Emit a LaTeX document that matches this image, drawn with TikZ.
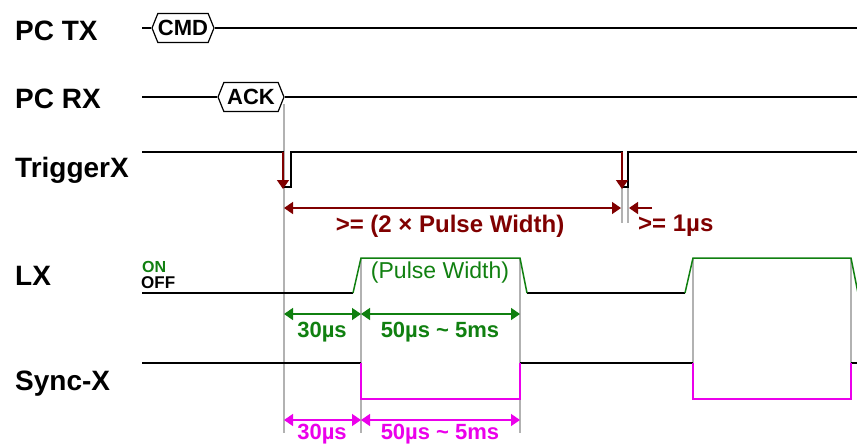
\documentclass[tikz,border=0pt]{standalone}
\usepackage{fontspec}
\setmainfont{Liberation Sans}
\usetikzlibrary{shapes.symbols, arrows.meta, positioning, calc}
\definecolor{trigred}{RGB}{128,0,0}
\definecolor{lxgreen}{RGB}{16,128,16}
\definecolor{syncmag}{RGB}{235,0,235}
\definecolor{guide}{RGB}{178,178,178}

\begin{document}
\begin{tikzpicture}[
    x=1pt, y=-1pt,
    lbl/.style={anchor=base west, inner sep=0pt, font=\fontsize{28}{28}\selectfont\bfseries},
    pkt/.style={signal, signal to=east and west, signal pointer angle=136, draw, line width=1.2pt,
        inner sep=0pt, minimum height=29pt, font=\fontsize{22}{22}\selectfont\bfseries},
    sig/.style={line width=2pt, black},
    guideline/.style={guide, line width=1.5pt},
    dim/.style={{Triangle[width=12pt,length=9pt]}-{Triangle[width=12pt,length=9pt]}, line width=1.5pt},
    edgemark/.style={-{Triangle[width=12pt,length=9pt]}, line width=1.5pt, trigred},
    dimtxt/.style={inner sep=0pt, font=\fontsize{22}{22}\selectfont\bfseries}
]
\useasboundingbox (0,0) rectangle (857,445);

% Signal names
\node[lbl] (pctx) at (15,40) {PC TX};
\node[lbl] (pcrx) at (15,108) {PC RX};
\node[lbl] (trig) at (15,177) {TriggerX};
\node[lbl] (lx) at (15,285) {LX};
\node[lbl] (sync) at (15,390) {Sync-X};
\node[anchor=west, inner sep=0pt, text=lxgreen, font=\fontsize{16}{16}\selectfont\bfseries] (on) at (142,267) {ON};
\node[anchor=west, inner sep=0pt, font=\fontsize{17}{17}\selectfont\bfseries] (off) at (141,283) {OFF};

% Guide lines
\foreach \x/\ya/\yb in {284/104/433, 622/152/223, 628/152/223, 361/258/433, 520/258/433, 693/258/363, 851/258/363} {
    \draw[guideline] (\x,\ya) -- (\x,\yb);
}

% Packets
\node[pkt, minimum width=62pt] (cmd) at (183,28) {CMD};
\node[pkt, minimum width=66pt] (ack) at (251,97) {ACK};
\draw[sig] (142,28) -- (cmd.west);
\draw[sig] (cmd.east) -- (857,28);
\draw[sig] (142,97) -- (ack.west);
\draw[sig] (ack.east) -- (857,97);

% TriggerX
\draw[sig] (142,152) -- (283,152) -- (283,187) -- (291,187) -- (291,152) -- (622,152)
    -- (622,187) -- (628,187) -- (628,152) -- (857,152);
\draw[edgemark] (283,152) -- (283,189);
\draw[edgemark] (622,152) -- (622,189);
\draw[dim, trigred] (284,208) -- (621,208);
\draw[edgemark] (652,208) -- (629,208);
\node[dimtxt, text=trigred, font=\fontsize{24}{24}\selectfont\bfseries] (twice) at (450,226) {>= (2 × Pulse Width)};
\node[dimtxt, text=trigred, font=\fontsize{24}{24}\selectfont\bfseries, anchor=west] (gap) at (638,226) {>= 1µs};

% LX
\draw[sig] (142,293) -- (353,293);
\draw[sig] (527,293) -- (685,293);
\draw[lxgreen, line width=1.5pt] (353,293) -- (361,258) -- (520,258) -- (527,293);
\draw[lxgreen, line width=1.5pt] (685,293) -- (693,258) -- (851,258) -- (858,293);
\node[inner sep=0pt, text=lxgreen, font=\fontsize{23}{23}\selectfont] (pw) at (440,273) {(Pulse Width)};

% Sync-X
\draw[sig] (142,363) -- (361,363);
\draw[sig] (520,363) -- (693,363);
\draw[sig] (851,363) -- (857,363);
\draw[syncmag, line width=1.5pt] (361,363) -- (361,399) -- (520,399) -- (520,363);
\draw[syncmag, line width=1.5pt] (693,363) -- (693,399) -- (851,399) -- (851,363);

% Delays
\foreach \y/\c/\dy in {314/lxgreen/18, 420/syncmag/14} {
    \draw[dim, \c] (284,\y) -- (361,\y);
    \draw[dim, \c] (361,\y) -- (520,\y);
    \node[dimtxt, text=\c] (d\y) at (322,\y+\dy) {30µs};
    \node[dimtxt, text=\c] (w\y) at (440,\y+\dy) {50µs \textasciitilde{} 5ms};
}
\end{tikzpicture}
\end{document}
